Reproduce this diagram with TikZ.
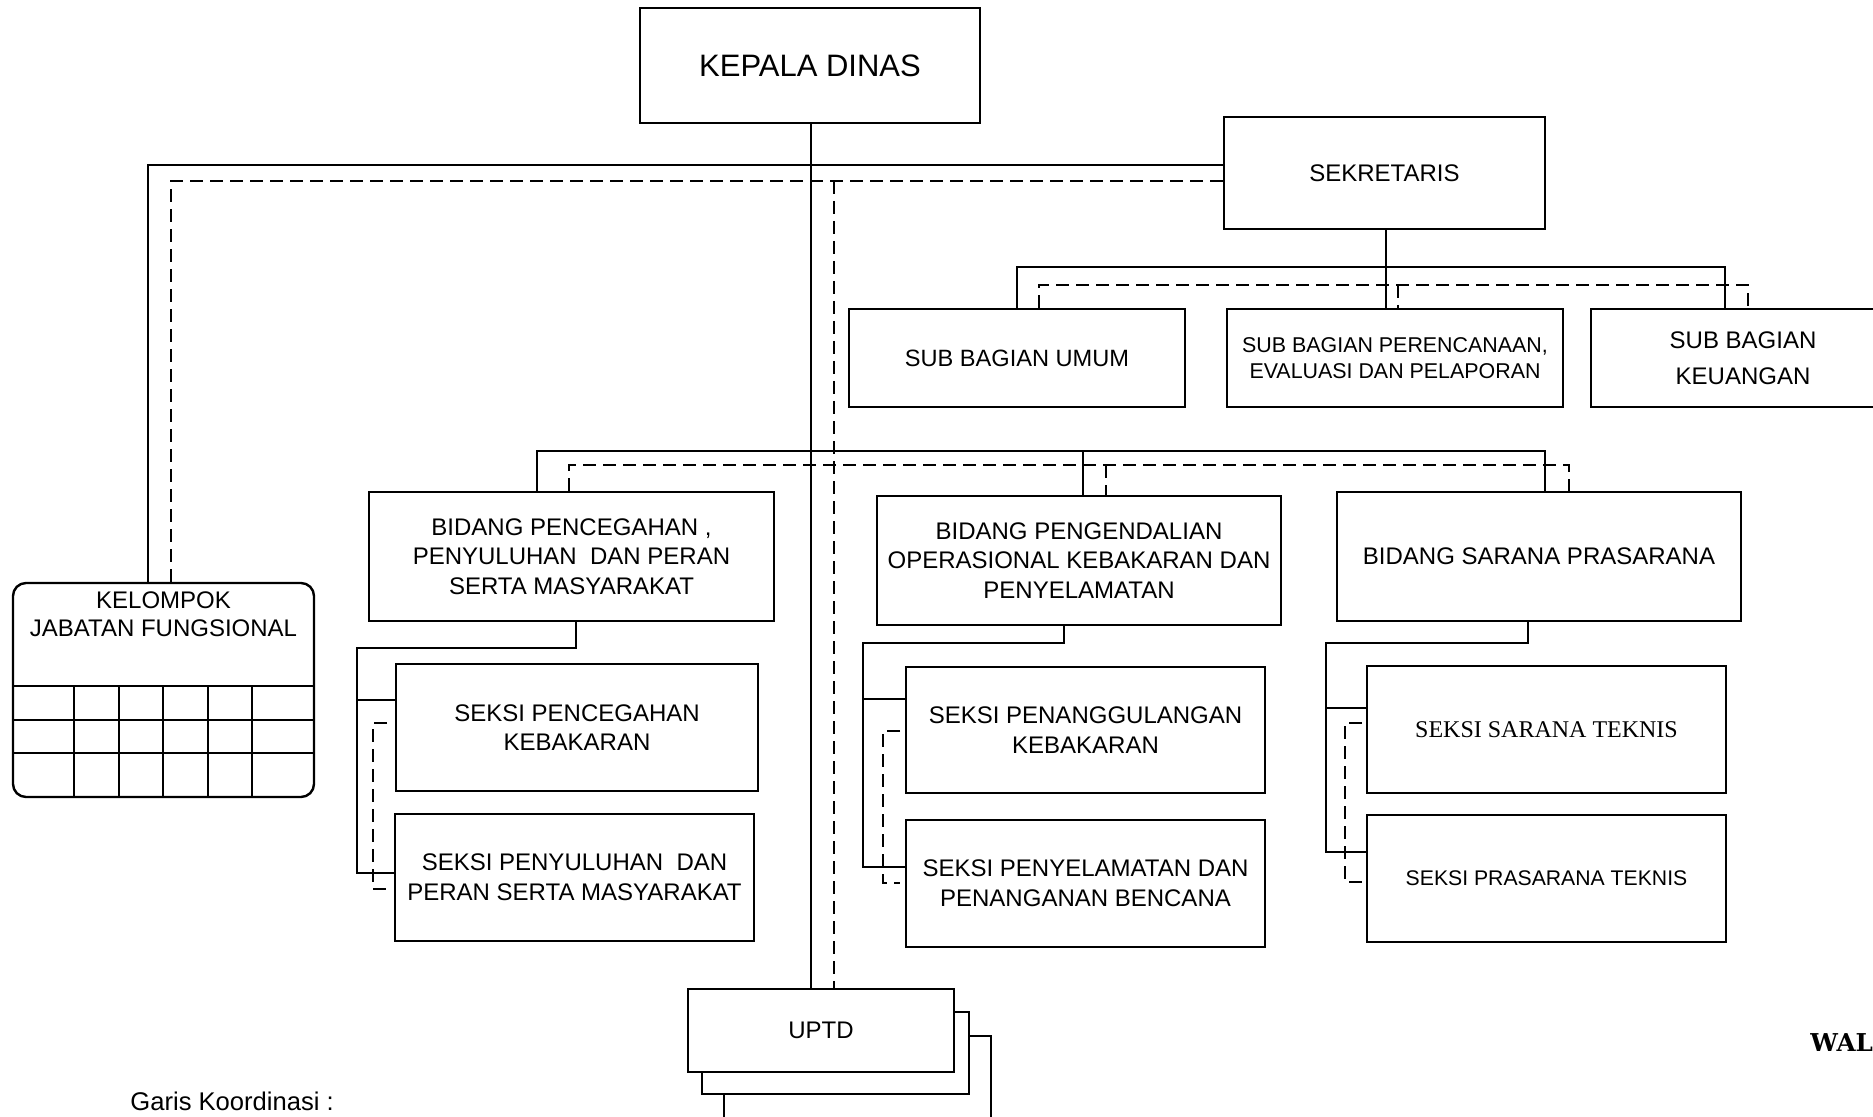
\documentclass[tikz,border=0pt]{standalone}
\usepackage{fontspec}
\setmainfont{Liberation Sans}
\newfontfamily\tnrfont{Liberation Serif}
\newfontfamily\walfont{DejaVu Serif}
\begin{document}
\begin{tikzpicture}[x=0.5pt,y=-0.5pt,
  box/.style={draw, line width=1.2pt, fill=white, rectangle, inner sep=0pt, align=center},
  ln/.style={line width=1pt},
  dsh/.style={line width=1pt, dash pattern=on 6.5pt off 3.5pt},
  ftxt/.style={font=\fontsize{12}{14.8}\selectfont}]
\useasboundingbox (0,0) rectangle (1873,1117);
\fill[white] (0,0) rectangle (1873,1117);
\clip (0,0) rectangle (1873,1117);

% ---- boxes ----
\node[box, minimum width=170pt, minimum height=57.5pt, font=\fontsize{15.5}{18}\selectfont] (kepala) at (810,65.5) {KEPALA DINAS};
\node[box, ftxt, minimum width=160.5pt, minimum height=56pt] (sek) at (1384.5,173) {SEKRETARIS};

\node[box, font=\fontsize{11.8}{14}\selectfont, minimum width=168pt, minimum height=49pt] (umum) at (1017,358) {SUB BAGIAN UMUM};
\node[box, font=\fontsize{10.7}{13}\selectfont, minimum width=168pt, minimum height=49pt] (ren) at (1395,358) {SUB BAGIAN PERENCANAAN,\\EVALUASI DAN PELAPORAN};
\node[box, font=\fontsize{12}{18}\selectfont, minimum width=152pt, minimum height=49pt] (keu) at (1743,358) {SUB BAGIAN\\KEUANGAN};

\node[box, ftxt, minimum width=202.5pt, minimum height=64.5pt] (bid1) at (571.5,556.5) {BIDANG PENCEGAHAN\ ,\\PENYULUHAN\ \ DAN PERAN\\SERTA MASYARAKAT};
\node[box, ftxt, minimum width=202pt, minimum height=64.5pt] (bid2) at (1079,560.5) {BIDANG PENGENDALIAN\\OPERASIONAL KEBAKARAN DAN\\PENYELAMATAN};
\node[box, ftxt, minimum width=202pt, minimum height=64.5pt] (bid3) at (1539,556.5) {BIDANG SARANA PRASARANA};

\node[box, ftxt, minimum width=181pt, minimum height=63.5pt] (s11) at (577,727.5) {SEKSI PENCEGAHAN\\KEBAKARAN};
\node[box, ftxt, minimum width=179.5pt, minimum height=63.5pt] (s12) at (574.5,877.5) {SEKSI PENYULUHAN\ \ DAN\\PERAN SERTA MASYARAKAT};
\node[box, ftxt, minimum width=179.5pt, minimum height=63pt] (s21) at (1085.5,730) {SEKSI PENANGGULANGAN\\KEBAKARAN};
\node[box, ftxt, minimum width=179.5pt, minimum height=63.5pt] (s22) at (1085.5,883.5) {SEKSI PENYELAMATAN DAN\\PENANGANAN BENCANA};
\node[box, font=\tnrfont\fontsize{12}{14.8}\selectfont, minimum width=179.5pt, minimum height=63.5pt] (s31) at (1546.5,729.5) {SEKSI SARANA TEKNIS};
\node[box, font=\fontsize{10.6}{13}\selectfont, minimum width=179.5pt, minimum height=63.5pt] (s32) at (1546.5,878.5) {SEKSI PRASARANA TEKNIS};

% KELOMPOK JABATAN FUNGSIONAL
\node[box, rounded corners=6.5pt, minimum width=150.5pt, minimum height=107pt] (kel) at (163.5,690) {};
\node[ftxt, align=center, inner sep=0pt, font=\fontsize{12}{14}\selectfont] (kelt) at (163.5,614) {KELOMPOK\\JABATAN FUNGSIONAL};
\foreach \yy in {686,720,753} \draw[line width=1.1pt] (13,\yy) -- (314,\yy);
\foreach \xx in {74,119,163,208,252} \draw[line width=1.1pt] (\xx,686) -- (\xx,797);

% UPTD stack
\node[box, minimum width=133.5pt, minimum height=47pt] (uptd3) at (857.5,1083) {};
\node[box, minimum width=133.5pt, minimum height=41pt] (uptd2) at (835.5,1053) {};
\node[box, ftxt, minimum width=133pt, minimum height=41.5pt] (uptd) at (821,1030.5) {UPTD};

% texts
\node[anchor=west, inner sep=0pt, font=\fontsize{12.8}{15}\selectfont] (garis) at (130,1101) {Garis Koordinasi :};
\node[anchor=west, inner sep=0pt, font=\walfont\bfseries\fontsize{12.3}{14}\selectfont] (wal) at (1810,1043) {WAL};

% ---- coordinates ----
\coordinate (trunk) at (811,0);
\coordinate (dtrunk) at (834,181);
\coordinate (bus1) at (148,165);
\coordinate (dbus1) at (171,181);
\coordinate (stk) at (1386,0);
\coordinate (sb1) at (1017,267);
\coordinate (sb3) at (1725,267);
\coordinate (dsb1) at (1039,285);
\coordinate (dsb2) at (1398,285);
\coordinate (dsb3) at (1748,285);
\coordinate (bb1) at (537,451);
\coordinate (bb2) at (1083,451);
\coordinate (bb3) at (1545,451);
\coordinate (db1) at (569,465);
\coordinate (db2) at (1106,465);
\coordinate (db3) at (1569,465);

% ---- solid connectors ----
\draw[ln] (kepala.south -| trunk) -- (uptd.north -| trunk);
\draw[ln] (kel.north -| bus1) -- (bus1) -- (bus1 -| sek.west);
\draw[ln] (sek.south -| stk) -- (ren.north -| stk);
\draw[ln] (umum.north -| sb1) -- (sb1) -- (sb3) -- (keu.north -| sb3);
\draw[ln] (bid1.north -| bb1) -- (bb1) -- (bb3) -- (bid3.north -| bb3);
\draw[ln] (bb2) -- (bid2.north -| bb2);

% ---- dashed connectors ----
\draw[dsh] (dtrunk) -- (uptd.north -| dtrunk);
\draw[dsh] (kel.north -| dbus1) -- (dbus1) -- (dbus1 -| sek.west);
\draw[dsh] (umum.north -| dsb1) -- (dsb1) -- (dsb3) -- (keu.north -| dsb3);
\draw[dsh] (dsb2) -- (ren.north -| dsb2);
\draw[dsh] (bid1.north -| db1) -- (db1) -- (db3) -- (bid3.north -| db3);
\draw[dsh] (db2) -- (bid2.north -| db2);

% ---- bidang 1 children ----
\coordinate (c1a) at (576,648);
\coordinate (c1b) at (357,648);
\coordinate (c1c) at (357,700);
\coordinate (c1d) at (357,873);
\draw[ln] (bid1.south -| c1a) -- (c1a) -- (c1b) -- (c1d) -- (c1d -| s12.west);
\draw[ln] (c1c) -- (c1c -| s11.west);
\coordinate (d1a) at (387,723);
\coordinate (d1b) at (373,723);
\coordinate (d1c) at (373,889);
\coordinate (d1d) at (387,889);
\draw[dsh] (d1a) -- (d1b) -- (d1c) -- (d1d);

% ---- bidang 2 children ----
\coordinate (c2a) at (1064,643);
\coordinate (c2b) at (863,643);
\coordinate (c2c) at (863,699);
\coordinate (c2d) at (863,867);
\draw[ln] (bid2.south -| c2a) -- (c2a) -- (c2b) -- (c2d) -- (c2d -| s22.west);
\draw[ln] (c2c) -- (c2c -| s21.west);
\coordinate (d2a) at (900,731);
\coordinate (d2b) at (883,731);
\coordinate (d2c) at (883,883);
\coordinate (d2d) at (900,883);
\draw[dsh] (d2a) -- (d2b) -- (d2c) -- (d2d);

% ---- bidang 3 children ----
\coordinate (c3a) at (1528,643);
\coordinate (c3b) at (1326,643);
\coordinate (c3c) at (1326,708);
\coordinate (c3d) at (1326,852);
\draw[ln] (bid3.south -| c3a) -- (c3a) -- (c3b) -- (c3d) -- (c3d -| s32.west);
\draw[ln] (c3c) -- (c3c -| s31.west);
\coordinate (d3a) at (1362,723);
\coordinate (d3b) at (1345,723);
\coordinate (d3c) at (1345,882);
\coordinate (d3d) at (1362,882);
\draw[dsh] (d3a) -- (d3b) -- (d3c) -- (d3d);
\end{tikzpicture}
\end{document}
